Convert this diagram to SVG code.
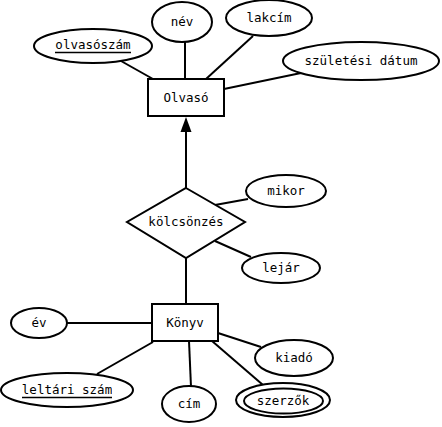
<svg xmlns="http://www.w3.org/2000/svg" width="442" height="427" viewBox="0 0 442 427">
<style>
.s{fill:#fff;stroke:#000;stroke-width:2}
.c line{stroke:#000;stroke-width:2}
text{font-family:"DejaVu Sans Mono","Liberation Mono",monospace;font-size:12.5px;text-anchor:middle;fill:#000}
.u{stroke:#000;stroke-width:1.5}
</style>
<defs>
<clipPath id="cl1"><rect x="0" y="0" width="420" height="427"/></clipPath>
<clipPath id="cl2"><rect x="0" y="0" width="112" height="427"/></clipPath>
</defs>
<g class="c" id="connectors">
<line x1="121" y1="61" x2="153" y2="79"/>
<line x1="185" y1="42" x2="185" y2="79"/>
<line x1="253" y1="36" x2="206" y2="79"/>
<line x1="301" y1="73" x2="224" y2="89"/>
<line x1="186" y1="188" x2="186" y2="128"/>
<polygon points="186,117 180.5,132 191.5,132" fill="#000"/>
<line x1="215" y1="205" x2="248" y2="199"/>
<line x1="215" y1="241" x2="251" y2="257"/>
<line x1="186" y1="258" x2="186" y2="304"/>
<line x1="67" y1="323" x2="152" y2="323"/>
<line x1="97" y1="374" x2="153" y2="342"/>
<line x1="189" y1="341" x2="191" y2="387"/>
<line x1="218" y1="333" x2="261" y2="347"/>
<line x1="212" y1="341" x2="263" y2="385"/>
</g>
<g id="olvaso"><rect class="s" x="148" y="79" width="76" height="37"/><text x="186" y="102">Olvasó</text></g>
<g id="olvasoszam"><ellipse class="s" cx="93" cy="46" rx="59" ry="17"/><text x="93" y="49">olvasószám</text><line class="u" x1="55" y1="52.5" x2="131" y2="52.5"/></g>
<g id="nev"><ellipse class="s" cx="182" cy="22" rx="30" ry="20"/><text x="182" y="26">név</text></g>
<g id="lakcim"><ellipse class="s" cx="269" cy="18" rx="43" ry="18"/><text x="269" y="22">lakcím</text></g>
<g id="szuletesi"><ellipse class="s" cx="361" cy="61" rx="78" ry="19"/><text x="361" y="65" clip-path="url(#cl1)">születési dátum</text></g>
<g id="kolcsonzes"><polygon class="s" points="186,188 245,222 186,258 127,222"/><text x="186" y="226">kölcsönzés</text></g>
<g id="mikor"><ellipse class="s" cx="286" cy="191" rx="40" ry="16"/><text x="286" y="195">mikor</text></g>
<g id="lejar"><ellipse class="s" cx="281" cy="268" rx="39" ry="15"/><text x="281" y="272">lejár</text></g>
<g id="konyv"><rect class="s" x="152" y="304" width="66" height="37"/><text x="185" y="327">Könyv</text></g>
<g id="ev"><ellipse class="s" cx="39" cy="323" rx="28" ry="15"/><text x="39" y="327">év</text></g>
<g id="leltari"><ellipse class="s" cx="67" cy="390" rx="66" ry="17"/><text x="67" y="394" clip-path="url(#cl2)">leltári szám</text><line class="u" x1="22" y1="397.5" x2="112" y2="397.5"/></g>
<g id="cim"><ellipse class="s" cx="189" cy="404" rx="27" ry="18"/><text x="189" y="408">cím</text></g>
<g id="kiado"><ellipse class="s" cx="294" cy="358" rx="39" ry="18"/><text x="294" y="362">kiadó</text></g>
<g id="szerzok"><ellipse class="s" cx="283" cy="400" rx="47" ry="17"/><ellipse class="s" cx="283.5" cy="401" rx="39.5" ry="12.5"/><text x="283" y="405">szerzők</text></g>
</svg>
